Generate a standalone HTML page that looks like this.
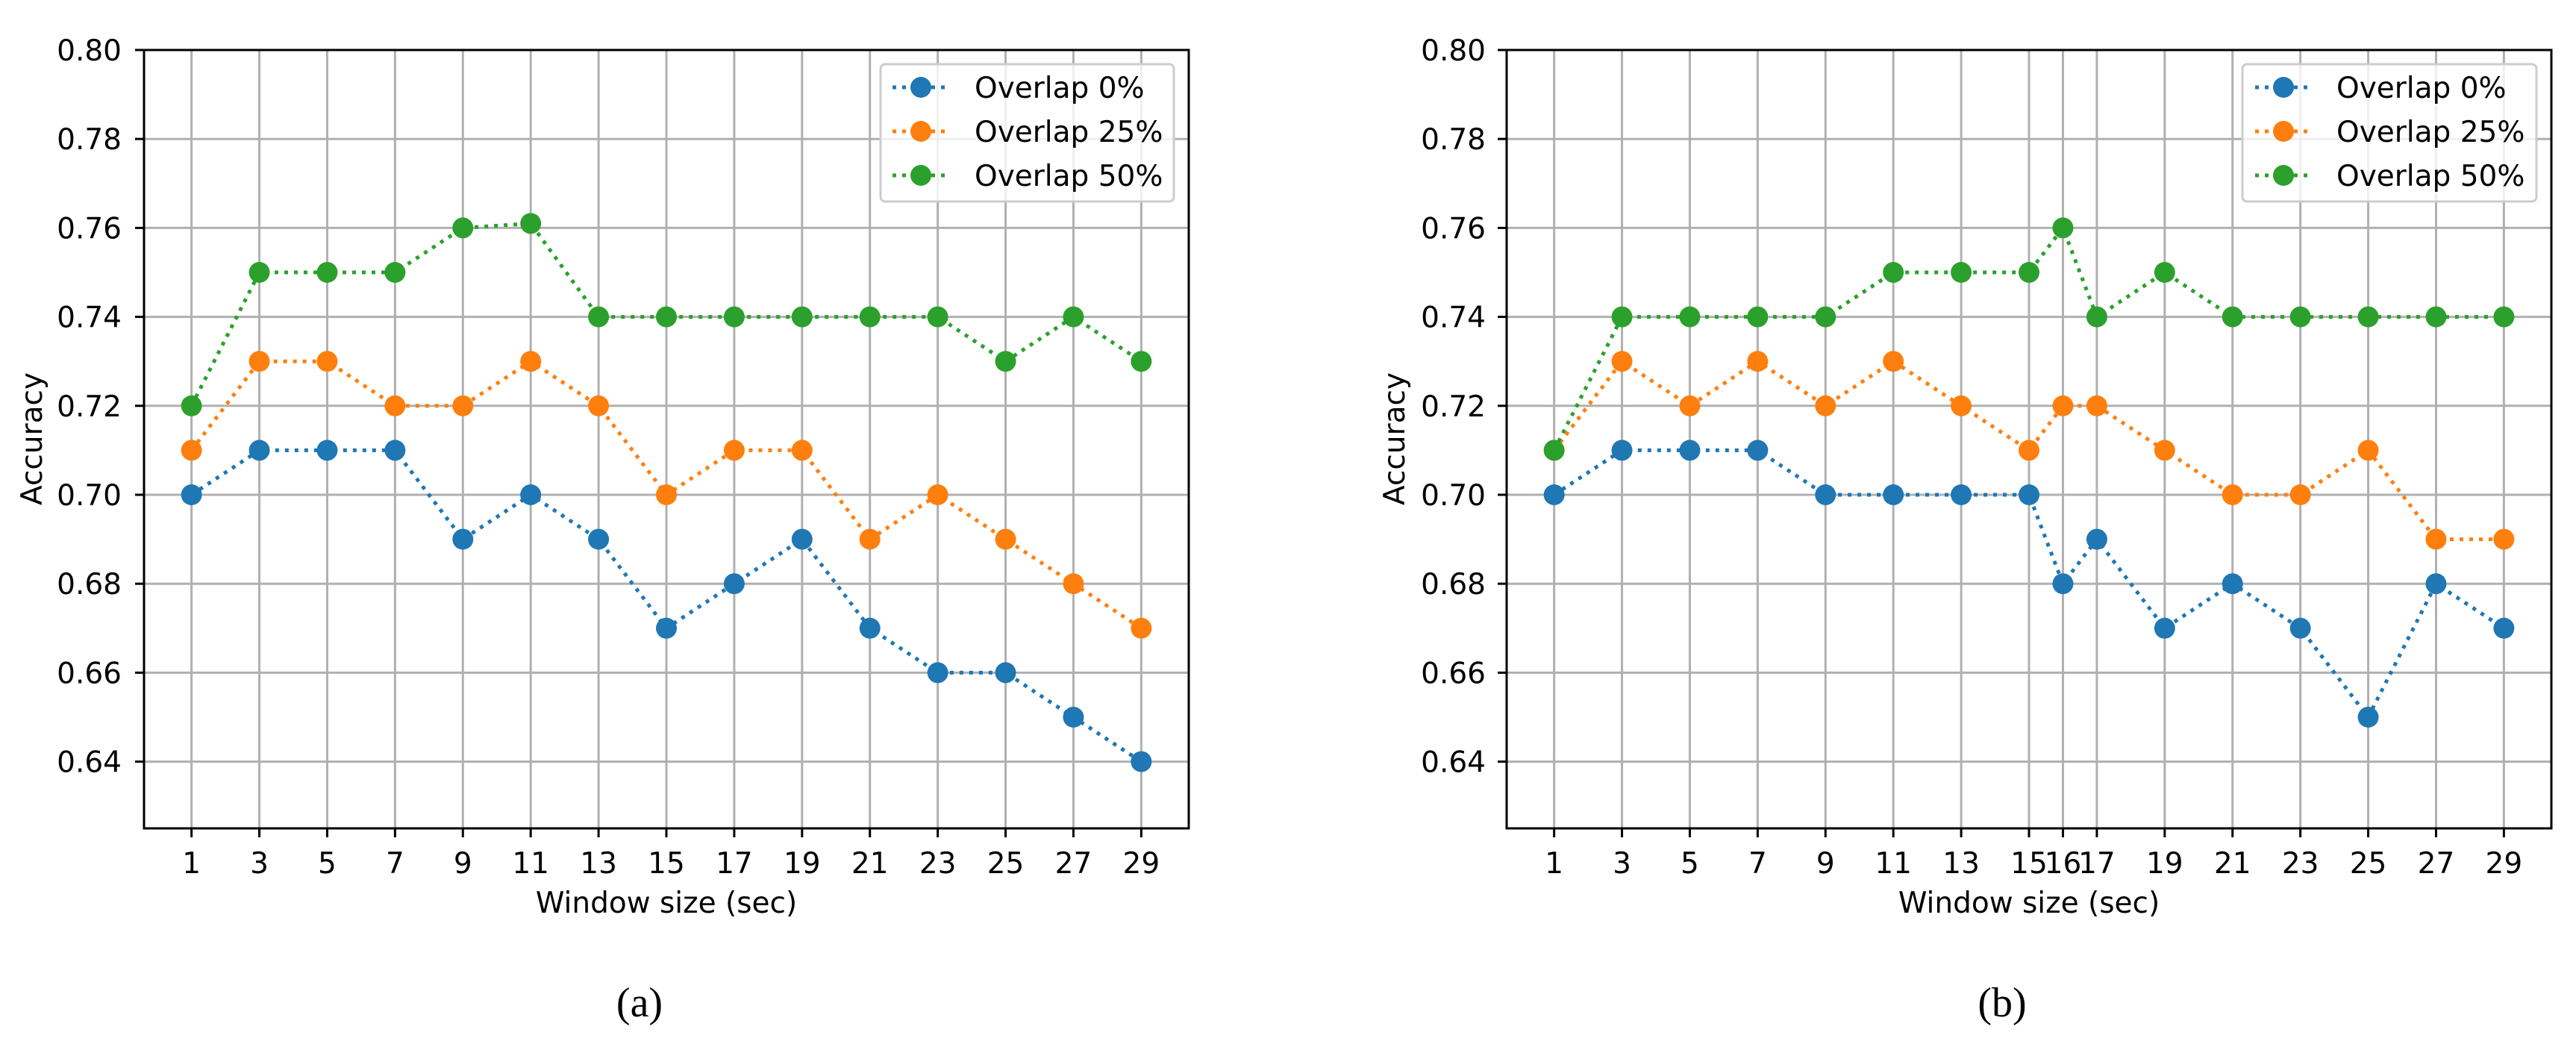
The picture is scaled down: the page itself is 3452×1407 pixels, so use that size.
<!DOCTYPE html>
<html><head><meta charset="utf-8"><style>
body{margin:0;background:#fff}
svg text{font-family:"DejaVu Sans","Liberation Sans",sans-serif}
</style></head><body>
<svg id="fig" width="3452" height="1402" xmlns="http://www.w3.org/2000/svg"></svg>
<script>
const leftX = [1,3,5,7,9,11,13,15,17,19,21,23,25,27,29];
const left0 = [0.70,0.71,0.71,0.71,0.69,0.70,0.69,0.67,0.68,0.69,0.67,0.66,0.66,0.65,0.64];
const left25 = [0.71,0.73,0.73,0.72,0.72,0.73,0.72,0.70,0.71,0.71,0.69,0.70,0.69,0.68,0.67];
const left50 = [0.72,0.75,0.75,0.75,0.76,0.761,0.74,0.74,0.74,0.74,0.74,0.74,0.73,0.74,0.73];
const rightX = [1,3,5,7,9,11,13,15,16,17,19,21,23,25,27,29];
const right0 = [0.70,0.71,0.71,0.71,0.70,0.70,0.70,0.70,0.68,0.69,0.67,0.68,0.67,0.65,0.68,0.67];
const right25 = [0.71,0.73,0.72,0.73,0.72,0.73,0.72,0.71,0.72,0.72,0.71,0.70,0.70,0.71,0.69,0.69];
const right50 = [0.71,0.74,0.74,0.74,0.74,0.75,0.75,0.75,0.76,0.74,0.75,0.74,0.74,0.74,0.74,0.74];
const yTicks = [0.64,0.66,0.68,0.70,0.72,0.74,0.76,0.78,0.80];
const seriesNames = ["Overlap 0%","Overlap 25%","Overlap 50%"];
const colors = ["#1f77b4","#ff7f0e","#2ca02c"];

const NS="http://www.w3.org/2000/svg";
const svg=document.getElementById('fig');
function mk(tag,attrs,parent){const e=document.createElementNS(NS,tag);for(const k in attrs)e.setAttribute(k,attrs[k]);(parent||svg).appendChild(e);return e;}

function panel(id,x0,x1,ticksX,series,legX0,legX1,markX,textX,ylabX,ytickR,capX,cap){
  const top=67,bot=1110,ymin=0.625,ymax=0.80,xmin=-0.4,xmax=30.4;
  const sx=v=>x0+(v-xmin)/(xmax-xmin)*(x1-x0);
  const sy=v=>bot-(v-ymin)/(ymax-ymin)*(bot-top);
  const g=mk('g',{});
  
  
  ticksX.forEach(t=>{
    const l=mk('line',{x1:sx(t),x2:sx(t),y1:top,y2:bot,stroke:'#b0b0b0','stroke-width':3},g);
    
    
    mk('line',{x1:sx(t),x2:sx(t),y1:bot,y2:bot+12,stroke:'#000','stroke-width':3},g);
    const tx=mk('text',{x:sx(t),y:bot+60,'font-size':39,'text-anchor':'middle'},g);
    tx.textContent=t;
    
    
  });
  yTicks.forEach(t=>{
    const l=mk('line',{x1:x0,x2:x1,y1:sy(t),y2:sy(t),stroke:'#b0b0b0','stroke-width':3},g);
    
    
    mk('line',{x1:x0-12,x2:x0,y1:sy(t),y2:sy(t),stroke:'#000','stroke-width':3},g);
    const tx=mk('text',{x:ytickR,y:sy(t)+14,'font-size':39,'text-anchor':'end'},g);
    tx.textContent=t.toFixed(2);
    
    
  });
  series.forEach((vals,i)=>{
    const pts=vals.map((v,j)=>sx(ticksX[j])+','+sy(v)).join(' ');
    const pl=mk('polyline',{points:pts,fill:'none',stroke:colors[i],'stroke-width':5,'stroke-dasharray':'5,8'},g);
    
    
    vals.forEach((v,j)=>{
      const c=mk('circle',{cx:sx(ticksX[j]),cy:sy(v),r:14,fill:colors[i]},g);
      
      
    });
  });
  const fr=mk('rect',{x:x0,y:top,width:x1-x0,height:bot-top,fill:'none',stroke:'#000','stroke-width':3},g);
  
  
  const lg=mk('g',{},g);
  
  
  mk('rect',{x:legX0,y:86,width:legX1-legX0,height:184,rx:6,fill:'#fff','fill-opacity':0.8,stroke:'#ccc','stroke-width':3},lg);
  [117,176,235].forEach((yy,i)=>{
    mk('line',{x1:markX-38,x2:markX+38,y1:yy,y2:yy,stroke:colors[i],'stroke-width':5,'stroke-dasharray':'5,8'},lg);
    mk('circle',{cx:markX,cy:yy,r:14,fill:colors[i]},lg);
    const t=mk('text',{x:textX,y:yy+14,'font-size':39},lg);
    t.textContent=seriesNames[i];
    
    
  });
  const xl=mk('text',{x:(x0+x1)/2,y:1223,'font-size':39,'text-anchor':'middle'},g);
  xl.textContent='Window size (sec)';
  
  
  const yl=mk('text',{x:ylabX,y:588,'font-size':39,'text-anchor':'middle',transform:`rotate(-90 ${ylabX} 588)`},g);
  yl.textContent='Accuracy';
  
  
  const cp=mk('text',{x:capX,y:1362,'font-size':56,'text-anchor':'middle'},g);
  cp.style.fontFamily='"Liberation Serif",serif';
  cp.textContent=cap;
  
  
}
panel('left',193,1593,leftX,[left0,left25,left50],1180,1573,1234,1306,56,163,857,'(a)');
panel('right',2019,3419,rightX,[right0,right25,right50],3005,3399,3060,3131,1882,1991,2683,'(b)');
</script>
</body></html>
